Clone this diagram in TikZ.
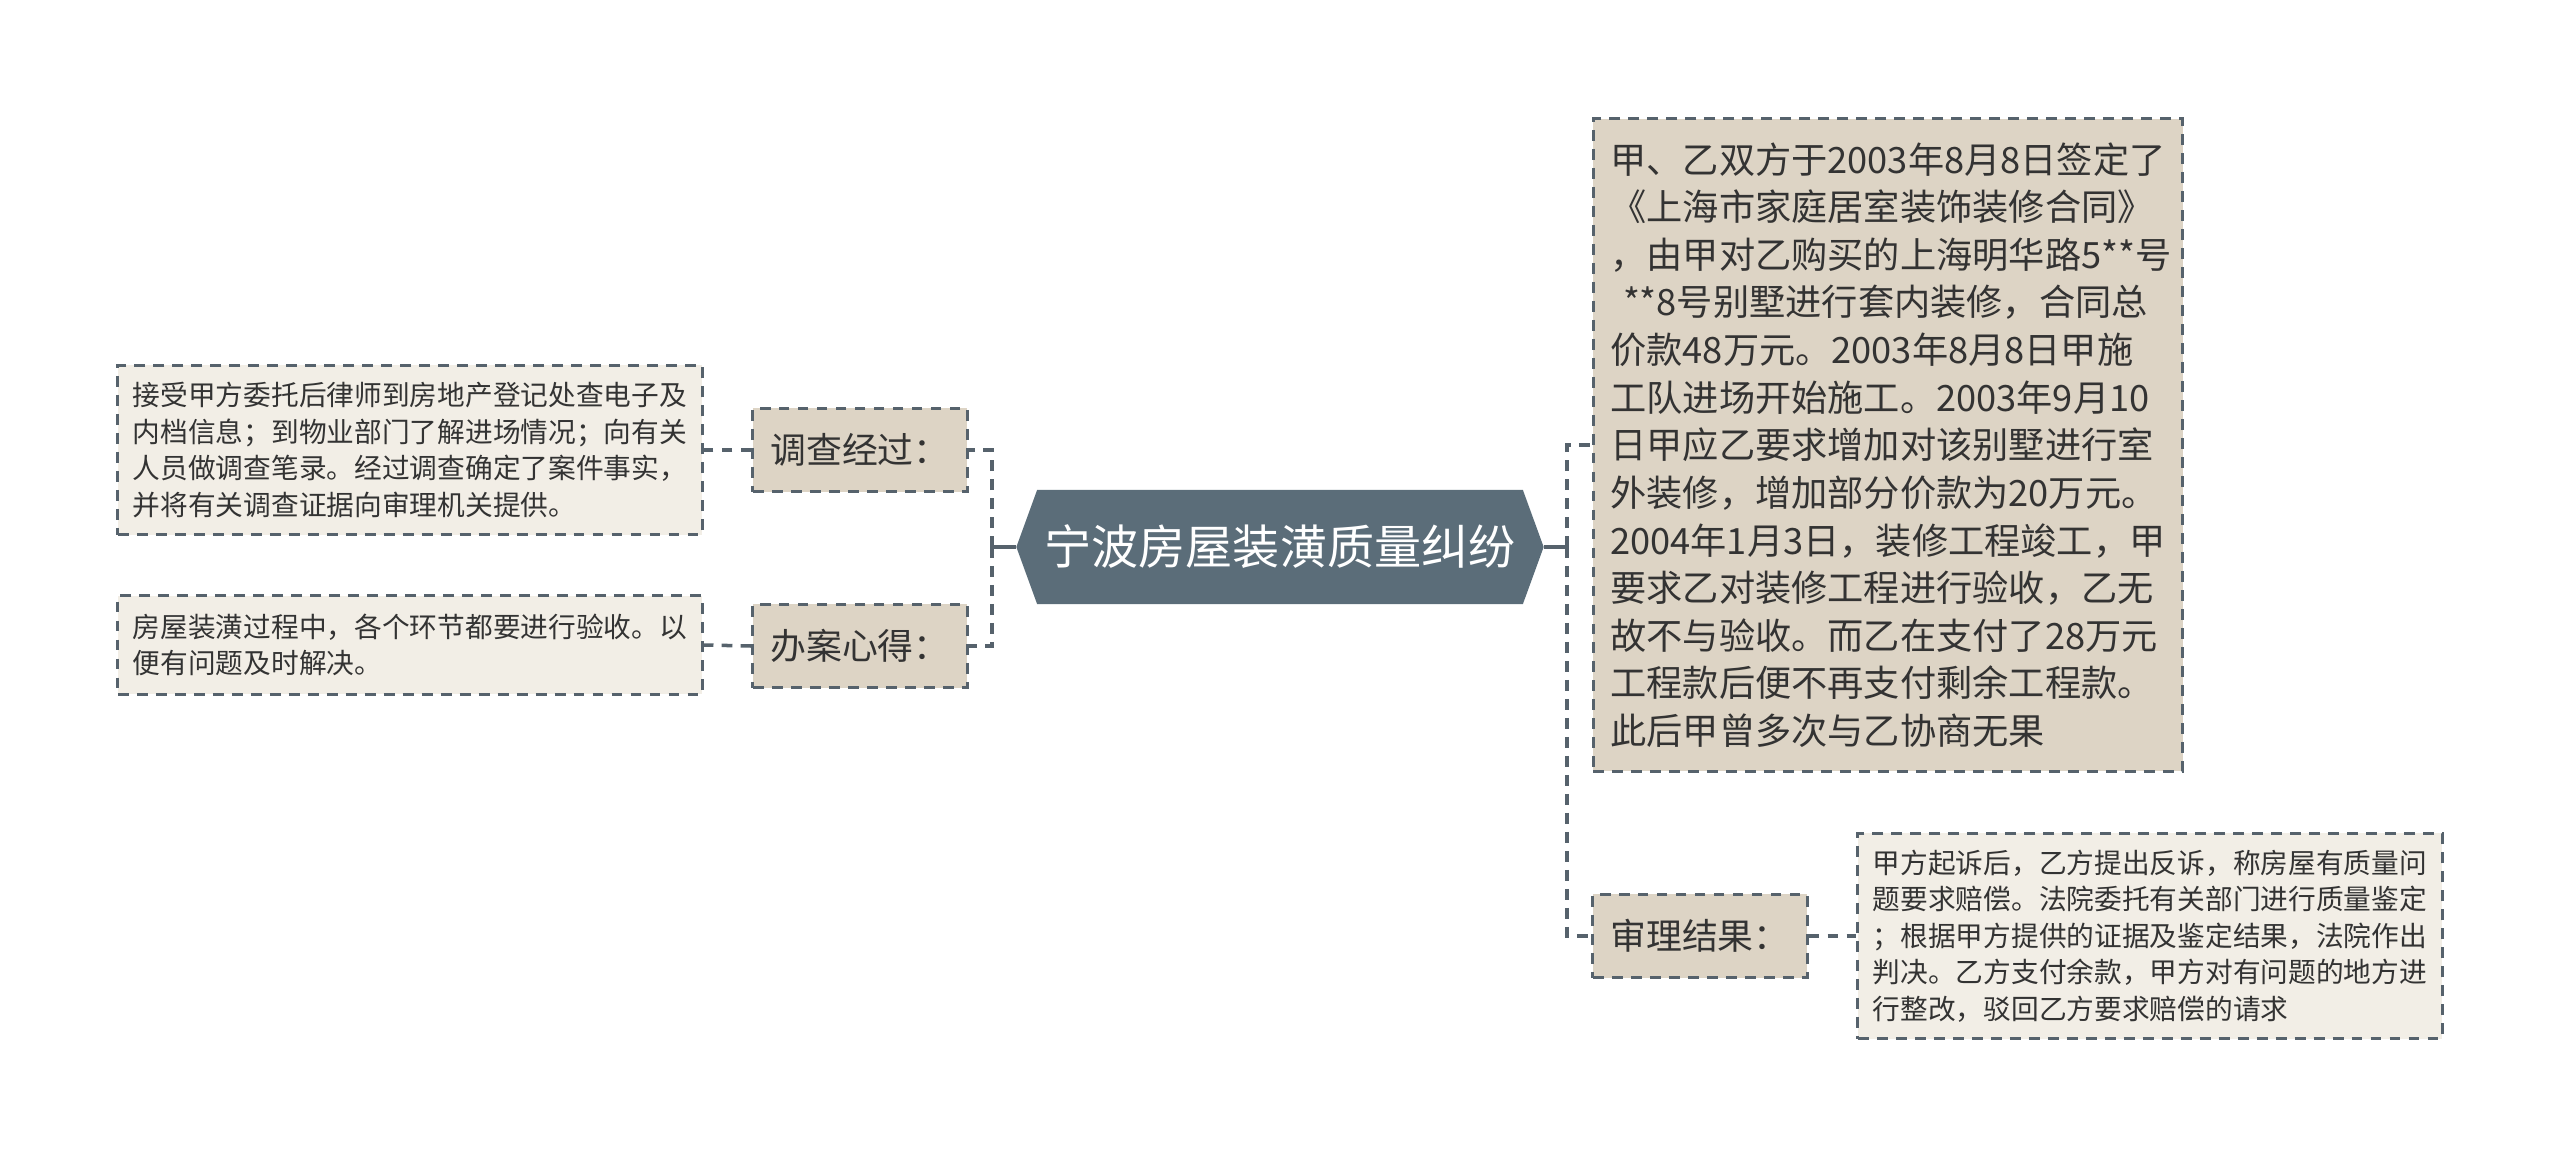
\documentclass[tikz,border=0pt]{standalone}
\usepackage{fontspec}
\setmainfont{Noto Sans CJK SC}
\usepackage{tikz}
\usetikzlibrary{shapes.symbols}
\definecolor{slate}{HTML}{5B6D79}
\definecolor{edge}{HTML}{56626C}
\definecolor{tan}{HTML}{DDD4C5}
\definecolor{paper}{HTML}{F2EEE6}
\definecolor{ink}{HTML}{333333}
\tikzset{
	hub/.style = {
		signal, signal to=west and east, signal pointer angle=140,
		fill=slate, text=white, inner sep=0pt,
		minimum width=5.27cm, minimum height=1.14cm,
		font=\fontsize{13.4pt}{16pt}\selectfont
	},
	boxline/.style = {
		draw=edge, line width=0.85pt,
		dash pattern=on 3.1pt off 2.3pt
	},
	topic/.style = {
		boxline, fill=tan, text=ink, inner sep=0pt,
		minimum width=2.14cm, minimum height=0.83cm,
		font=\fontsize{10.2pt}{13pt}\selectfont
	},
	story/.style = {
		boxline, fill=tan, text=ink, align=left,
		text width=5.55cm, inner xsep=0.17cm, inner ysep=0pt,
		minimum height=#1,
		font=\fontsize{10.3pt}{13.54pt}\selectfont
	},
	note/.style = {
		boxline, fill=paper, text=ink, align=left,
		text width=5.54cm, inner xsep=0.15cm, inner ysep=0pt,
		minimum height=#1,
		font=\fontsize{7.88pt}{10.36pt}\selectfont
	}
}
\tikzstyle{link} = [edge, line width=1pt, dash pattern=on 3.1pt off 2.3pt]
\tikzstyle{stem} = [edge, line width=1pt]

\begin{document}
\begin{tikzpicture}[x=0.01cm, y=-0.01cm]
\useasboundingbox (0,0) rectangle (2560,1157);
\node[hub] (hub) at (1280,547) {宁波房屋装潢质量纠纷};
\node[topic] (inv) at (860,450) {调查经过：};
\node[topic] (exp) at (860,646) {办案心得：};
\node[note=1.69cm] (invtext) at (410,450) {接受甲方委托后律师到房地产登记处查电子及\\内档信息；到物业部门了解进场情况；向有关\\人员做调查笔录。经过调查确定了案件事实，\\并将有关调查证据向审理机关提供。};
\node[note=0.98cm] (exptext) at (410,645) {房屋装潢过程中，各个环节都要进行验收。以\\便有问题及时解决。};
\node[story=6.52cm] (case) at (1888,445) {甲、乙双方于2003年8月8日签定了\\《上海市家庭居室装饰装修合同》\\，由甲对乙购买的上海明华路5**号\\\hspace*{0.35em}**8号别墅进行套内装修，合同总\\价款48万元。2003年8月8日甲施\\工队进场开始施工。2003年9月10\\日甲应乙要求增加对该别墅进行室\\外装修，增加部分价款为20万元。\\2004年1月3日，装修工程竣工，甲\\要求乙对装修工程进行验收，乙无\\故不与验收。而乙在支付了28万元\\工程款后便不再支付剩余工程款。\\此后甲曾多次与乙协商无果};
\node[topic] (res) at (1700,936) {审理结果：};
\node[note=2.05cm] (restext) at (2150,936) {甲方起诉后，乙方提出反诉，称房屋有质量问\\题要求赔偿。法院委托有关部门进行质量鉴定\\；根据甲方提供的证据及鉴定结果，法院作出\\判决。乙方支付余款，甲方对有问题的地方进\\行整改，驳回乙方要求赔偿的请求};

\coordinate (jl) at (992,547);
\coordinate (jr) at (1567,547);
\draw[stem] (hub.west) -- (jl);
\draw[stem] (hub.east) -- (jr);
\draw[link] (jl) |- (inv.east);
\draw[link] (jl) |- (exp.east);
\draw[link] (jr) |- (case.west);
\draw[link] (jr) |- (res.west);
\draw[link] (inv.west) -- (invtext.east);
\draw[link] (exp.west) -- (exptext.east);
\draw[link] (res.east) -- (restext.west);
\end{tikzpicture}
\end{document}
